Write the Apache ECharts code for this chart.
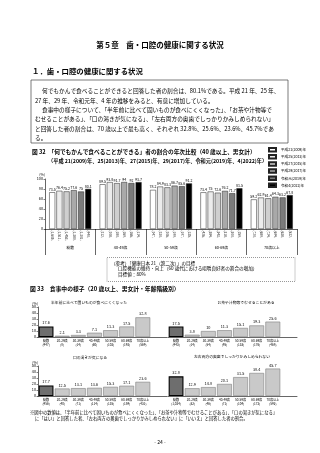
<!DOCTYPE html>
<html><head><meta charset="utf-8">
<script src="https://cdn.jsdelivr.net/npm/echarts@6/dist/echarts.min.js"></script>
<style>html,body{margin:0;padding:0;background:#fff}#c{width:320px;height:453px}</style>
</head><body><div id="c"></div>
<script>
// ---- Figure 32 data ----
const groups32 = ['総数', '40-49歳', '50-59歳', '60-69歳', '70歳以上'];
const years32 = ['平成21(2009)年', '平成25(2013)年', '平成27(2015)年', '平成29(2017)年', '令和元(2019)年', '令和4(2022)年'];
const v2009 = [73.5, 89.5, 78.2, 73.4, 59.2];
const v2013 = [76.4, 93.8, 84.9, 75.0, 62.9];
const v2015 = [75.2, 91.7, 83.3, 72.6, 61.4];
const v2017 = [77.6, 94.0, 86.7, 76.2, 64.3];
const v2019 = [75.0, 92.0, 85.6, 71.7, 63.2];
const v2022 = [80.1, 93.7, 91.2, 81.5, 67.8];
const n2009 = ['1,605', '212', '247', '426', '720'];
const n2013 = ['1,511', '208', '230', '384', '689'];
const n2015 = ['1,453', '180', '206', '343', '724'];
const n2017 = ['1,380', '169', '199', '318', '694'];
const n2019 = ['1,301', '166', '197', '300', '638'];
const n2022 = ['940', '114', '135', '159', '532'];

// ---- Figure 33 data ----
const ages33 = ['総数', '20-29歳', '30-39歳', '40-49歳', '50-59歳', '60-69歳', '70歳以上'];
const hardFood = [17.6, 2.1, 3.3, 7.1, 11.3, 17.5, 32.8];
const hardFoodN = ['947', '8', '14', '60', '102', '192', '569'];
const choke = [17.5, 3.8, 10.0, 11.3, 15.1, 19.3, 25.6];
const chokeN = ['943', '14', '54', '95', '133', '176', '468'];
const dryMouth = [17.7, 12.5, 13.1, 13.6, 15.3, 17.1, 23.6];
const dryMouthN = ['956', '40', '71', '114', '135', '159', '431'];
const cantChew = [32.8, 12.9, 14.8, 20.1, 31.5, 38.4, 45.7];
const cantChewN = ['1,024', '32', '46', '71', '104', '172', '592'];
const yTicks32 = [0, 20, 40, 60, 80, 100];
const yTicks33 = [0, 10, 20, 30, 40, 50];

const FF = '"Noto Sans CJK JP", "Noto Sans", sans-serif';
const chart = echarts.init(document.getElementById('c'), null, {renderer: 'canvas'});

// build fig32 bar-level categories (6 bars + spacer per group)
const vals32 = [v2009, v2013, v2015, v2017, v2019, v2022];
const ns32 = [n2009, n2013, n2015, n2017, n2019, n2022];
const cats32 = [];
for (let g = 0; g < groups32.length; g++) {
  for (let s = 0; s < 6; s++) cats32.push('(' + ns32[s][g] + ')');
  if (g < groups32.length - 1) cats32.push('');
}
const fills32 = ['#ffffff', '#ececec', '#cfcfcf', '#a9a9a9', '#7b7b7b', '#000000'];
const series = [];
for (let s = 0; s < 6; s++) {
  const d = [];
  for (let g = 0; g < groups32.length; g++) {
    for (let k = 0; k < 6; k++) d.push(k === s ? vals32[s][g] : '-');
    if (g < groups32.length - 1) d.push('-');
  }
  series.push({
    name: years32[s], type: 'bar', xAxisIndex: 0, yAxisIndex: 0, data: d,
    barGap: '-100%', barWidth: 6,
    itemStyle: {color: fills32[s], borderColor: '#222', borderWidth: 0.5},
    label: {show: true, position: 'top', distance: 1, fontSize: 3.6, color: '#000', fontFamily: FF},
    animation: false
  });
}

const grids = [
  {left: 48.6, width: 244.8, top: 179, height: 50},
  {left: 45, width: 252, top: 179, height: 50}
];
const xAxes = [
  {gridIndex: 0, type: 'category', data: cats32, axisLine: {show: false}, axisTick: {show: false},
   axisLabel: {rotate: -90, fontSize: 3.2, margin: 1.5, interval: 0, color: '#000', fontFamily: FF}},
  {gridIndex: 1, type: 'category', data: groups32,
   axisLine: {lineStyle: {color: '#000', width: 0.6}},
   axisTick: {show: true, length: 26, lineStyle: {color: '#000', width: 0.6}},
   axisLabel: {fontSize: 3.8, margin: 17, color: '#000', fontFamily: FF}}
];
const yAxes = [
  {gridIndex: 0, type: 'value', min: 0, max: 100, show: false},
  {gridIndex: 1, type: 'value', min: yTicks32[0], max: yTicks32[yTicks32.length - 1], interval: 20,
   axisLine: {show: true, lineStyle: {color: '#000', width: 0.6}},
   axisTick: {show: true, length: 1.5, lineStyle: {color: '#000', width: 0.5}},
   axisLabel: {fontSize: 3.8, margin: 2, color: '#000', fontFamily: FF},
   splitLine: {show: false},
   name: '(%)', nameGap: 3, nameTextStyle: {fontSize: 3.6, align: 'right', color: '#000', fontFamily: FF}}
];

const panels = [
  {title: '半年前に比べて固いものが食べにくくなった', v: hardFood, n: hardFoodN, left: 38, top: 307, showY: true, tx: 89, ty: 303},
  {title: 'お茶や汁物等でむせることがある', v: choke, n: chokeN, left: 168, top: 307, showY: false, tx: 246, ty: 303},
  {title: '口の渇きが気になる', v: dryMouth, n: dryMouthN, left: 38, top: 366, showY: true, tx: 90, ty: 358},
  {title: '左右両方の奥歯でしっかりかみしめられない', v: cantChew, n: cantChewN, left: 168, top: 366, showY: false, tx: 232, ty: 357}
];
panels.forEach((p, i) => {
  const gi = grids.length;
  grids.push({left: p.left, width: 129, top: p.top, height: 30});
  xAxes.push({gridIndex: gi, type: 'category', data: ages33.map((a, j) => a + '\n(' + p.n[j] + ')'), max: 7,
    axisLine: {lineStyle: {color: '#000', width: 0.6}}, axisTick: {show: false},
    axisLabel: {fontSize: 3.1, lineHeight: 3.9, margin: 1.5, interval: 0, color: '#000', fontFamily: FF}});
  yAxes.push({gridIndex: gi, type: 'value', min: 0, max: 50, interval: 10, show: p.showY,
    axisLine: {show: true, lineStyle: {color: '#000', width: 0.6}},
    axisTick: {show: true, length: 1.5, lineStyle: {color: '#000', width: 0.5}},
    axisLabel: {fontSize: 3.8, margin: 2, color: '#000', fontFamily: FF},
    splitLine: {show: false},
    name: '(%)', nameGap: 2, nameTextStyle: {fontSize: 3.6, align: 'right', color: '#000', fontFamily: FF}});
  series.push({
    type: 'bar', xAxisIndex: gi, yAxisIndex: gi, barCategoryGap: '8%', animation: false,
    data: p.v.map((val, j) => j === 0
      ? {value: val, itemStyle: {color: '#6e6e6e', borderColor: '#000', borderWidth: 1.1}}
      : {value: val, itemStyle: {color: '#c9c9c9', borderColor: '#808080', borderWidth: 0.6}}),
    label: {show: true, position: 'top', distance: 1.5, fontSize: 3.8, color: '#000', fontFamily: FF}
  });
});

function txt(x, y, text, size, opts) {
  opts = opts || {};
  return {type: 'text', x: x, y: y, silent: true, style: {text: text, fontSize: size, fontFamily: FF,
    fontWeight: opts.bold ? 'bold' : 'normal', fill: '#000', align: opts.align || 'left', verticalAlign: 'middle'}};
}
const graphics = [
  txt(160, 45, '第５章　歯・口腔の健康に関する状況', 7.5, {bold: true, align: 'center'}),
  txt(32, 71, '１．歯・口腔の健康に関する状況', 7.4, {bold: true}),
  {type: 'rect', shape: {x: 31, y: 80, width: 257, height: 63}, style: {fill: 'none', stroke: '#444', lineWidth: 0.7}},
  txt(42, 91, '何でもかんで食べることができると回答した者の割合は、80.1%である。平成 21 年、25 年、', 5.7),
  txt(35, 100.5, '27 年、29 年、令和元年、4 年の推移をみると、有意に増加している。', 5.7),
  txt(42, 110, '食事中の様子について、「半年前に比べて固いものが食べにくくなった」、「お茶や汁物等で', 5.7),
  txt(35, 119.3, 'むせることがある」、「口の渇きが気になる」、「左右両方の奥歯でしっかりかみしめられない」', 5.7),
  txt(35, 128.6, 'と回答した者の割合は、70 歳以上で最も高く、それぞれ 32.8%、25.6%、23.6%、45.7%であ', 5.7),
  txt(35, 137.5, 'る。', 5.7),
  txt(32, 152, '図 32　「何でもかんで食べることができる」者の割合の年次比較（40 歳以上、男女計）', 5.7, {bold: true}),
  txt(48, 161, '（平成 21(2009)年、25(2013)年、27(2015)年、29(2017)年、令和元(2019)年、4(2022)年）', 5.2, {bold: true}),
  {type: 'rect', shape: {x: 107, y: 257.5, width: 188, height: 24}, style: {fill: 'none', stroke: '#333', lineWidth: 0.5, lineDash: [1, 1]}},
  txt(111, 263, '（参考）「健康日本 21（第二次）」の目標', 4.6),
  txt(118, 268.5, '口腔機能の維持・向上（60 歳代における咀嚼良好者の割合の増加）', 4.6),
  txt(118, 274, '目標値：80%', 4.6),
  txt(30, 289, '図 33　食事中の様子（20 歳以上、男女計・年齢階級別）', 5.8, {bold: true}),
  txt(30, 412, '※図中の数値は、「半年前に比べて固いものが食べにくくなった」、「お茶や汁物等でむせることがある」、「口の渇きが気になる」', 4.3),
  txt(35, 418.5, 'に「はい」と回答した者、「左右両方の奥歯でしっかりかみしめられない」に「いいえ」と回答した者の割合。', 4.3),
  txt(160, 442, '- 24 -', 5, {align: 'center'})
];
panels.forEach(p => graphics.push(txt(p.tx, p.ty, p.title, 3.8, {align: 'center'})));

chart.setOption({
  backgroundColor: '#fff',
  animation: false,
  textStyle: {fontFamily: FF},
  legend: {data: years32, orient: 'vertical', left: 268, top: 147, itemWidth: 7, itemHeight: 3.5, itemGap: 1.6,
    icon: 'rect', padding: 0, textStyle: {fontSize: 3.6, color: '#000', fontFamily: FF}},
  grid: grids, xAxis: xAxes, yAxis: yAxes, series: series, graphic: graphics
});
</script></body></html>
